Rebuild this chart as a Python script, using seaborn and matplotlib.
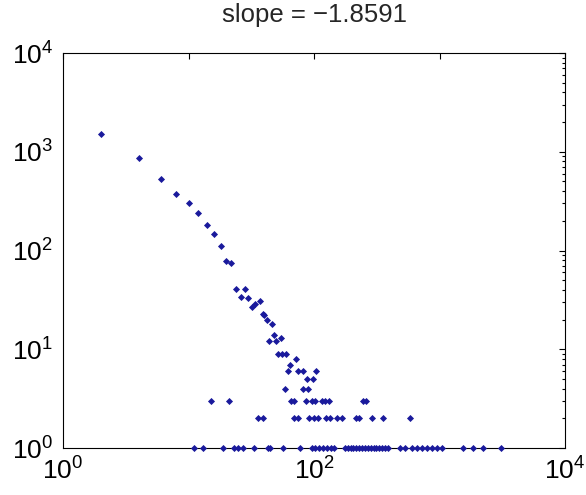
import numpy as np
import pandas as pd
import matplotlib
matplotlib.use('Agg')
import matplotlib.pyplot as plt
import matplotlib.ticker as mticker
import seaborn as sns

# degree distribution
head_degree = [2, 4, 6, 8, 10, 12, 14, 16, 18, 20, 22, 24, 28, 26, 30, 32, 34, 37,
               39, 40, 42, 46, 48, 55, 44, 50, 52, 56, 60, 72, 64]
head_count = [1514, 871, 533, 376, 305, 240, 183, 148, 110, 79, 75, 41, 41, 34, 33, 27, 29, 31,
              23, 22, 20, 18, 14, 13, 12, 12, 9, 9, 9, 8, 7]
degree_count6 = [62, 74, 81, 103]
degree_count5 = [88, 98]
degree_count4 = [59, 82, 89]
degree_count3 = [15, 21, 66, 69, 87, 96, 102, 115, 122, 132, 247, 260]
degree_count2 = [36, 39, 69, 75, 92, 100, 108, 125, 134, 153, 166, 216, 230, 288, 357, 582]
degree_count1 = [11, 13, 19, 23, 25, 27, 33, 43, 45, 57, 77, 96, 101, 110, 117, 126, 136, 145,
                 177, 186, 196, 206, 218, 230, 242, 255, 268, 283, 298, 314, 331, 349, 367, 387,
                 484, 531, 600, 658, 721, 791, 867, 950, 1042, 1531, 1840, 2208, 3074]
slope = -1.8591

rows = [(degree_count6, 6), (degree_count5, 5), (degree_count4, 4),
        (degree_count3, 3), (degree_count2, 2), (degree_count1, 1)]
xs = list(head_degree)
ys = list(head_count)
for dlist, c in rows:
    xs += dlist
    ys += [c] * len(dlist)
df = pd.DataFrame({'degree': xs, 'count': ys})

sns.set_style('white')
plt.rcParams['font.family'] = ['Liberation Sans', 'DejaVu Sans']
plt.rcParams['mathtext.fontset'] = 'custom'
plt.rcParams['mathtext.rm'] = 'Liberation Sans'

fig = plt.figure(figsize=(5.86, 4.95), dpi=100)
ax = fig.add_axes([63 / 586, 1 - 448 / 495, (565 - 63) / 586, (448 - 53) / 495])

sns.scatterplot(data=df, x='degree', y='count', ax=ax, color='#1a1a9c', marker='D',
                s=13, linewidth=0, clip_on=False, zorder=3)

ax.set_xscale('log')
ax.set_yscale('log')
ax.set_xlim(1, 1e4)
ax.set_ylim(1, 1e4)

ax.set_xticks([1, 10, 100, 1000, 10000])
ax.xaxis.set_minor_locator(mticker.NullLocator())
ax.xaxis.set_major_formatter(mticker.FuncFormatter(
    lambda v, p: '$\\mathdefault{10^{%d}}$' % round(np.log10(v)) if round(np.log10(v)) % 2 == 0 else ''))
ax.set_yticks([1, 10, 100, 1000, 10000])
ax.yaxis.set_minor_locator(mticker.LogLocator(base=10, subs=np.arange(2, 10)))
ax.yaxis.set_minor_formatter(mticker.NullFormatter())
ax.yaxis.set_major_formatter(mticker.FuncFormatter(
    lambda v, p: '$\\mathdefault{10^{%d}}$' % round(np.log10(v))))

ax.tick_params(which='both', direction='in', top=True, right=True, colors='black',
               labelsize=19, width=0.8)
ax.tick_params(which='major', length=4)
ax.tick_params(which='minor', length=2.4)
ax.tick_params(axis='x', pad=7)
ax.tick_params(axis='y', pad=7)
for sp in ax.spines.values():
    sp.set_color('black')
    sp.set_linewidth(0.8)

ax.set_xlabel('')
ax.set_ylabel('')
ax.set_title('slope = \u2212%.4f' % abs(slope), fontsize=18.5, pad=22)

fig.savefig('out.png', dpi=100)
